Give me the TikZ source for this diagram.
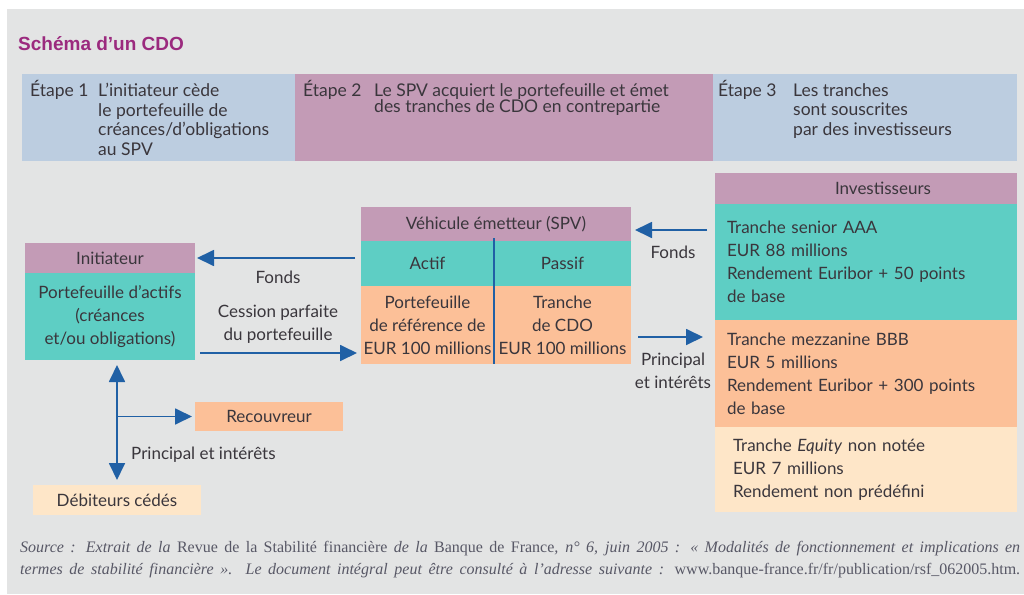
\documentclass[tikz,border=0pt]{standalone}
\usepackage{fontspec}
\setmainfont{Lato}
\newfontfamily\srcfont{Liberation Serif}
\newfontfamily\titlefont{Liberation Sans}
\usetikzlibrary{positioning,arrows.meta}
\definecolor{bggray}{HTML}{E3E4E4}
\definecolor{stepblue}{HTML}{BCCDE0}
\definecolor{mauve}{HTML}{C39BB6}
\definecolor{tealbox}{HTML}{5ECEC4}
\definecolor{peach}{HTML}{FCC098}
\definecolor{cream}{HTML}{FEE6C8}
\definecolor{flowblue}{HTML}{2060A5}
\definecolor{inkgray}{HTML}{3A363C}
\definecolor{titlepurple}{HTML}{9B2A7E}
\definecolor{srcgray}{HTML}{585866}

\begin{document}
\begin{tikzpicture}[x=1pt, y=-1pt, font=\fontsize{17}{23}\selectfont, text=inkgray]
\tikzset{cell/.style={inner sep=0pt, outer sep=0pt, anchor=north west},
         hdr/.style={cell, fill=mauve},
         steplbl/.style={inner sep=0pt, anchor=base west,
                         font=\fontsize{17.5}{19.5}\selectfont},
         steptxt/.style={inner sep=0pt, anchor=north west, align=left,
                         font=\fontsize{17.5}{19.5}\selectfont},
         lbl/.style={inner sep=1pt},
         >={Triangle[length=17pt, width=16pt]},
         flow/.style={draw=flowblue, line width=1.8pt, ->},
         tranchebox/.style={cell, text width=278pt, inner xsep=12pt,
                            minimum height=#1, align=left},
         srcline/.style={inner sep=0pt, anchor=base west, text=srcgray,
                         font=\srcfont\fontsize{16}{18}\selectfont\itshape}}

\useasboundingbox (0,0) rectangle (1024,594);
\fill[white] (0,0) rectangle (1024,594);
\fill[bggray] (7,9) rectangle (1024,594);

\node[anchor=base west, inner sep=0pt, text=titlepurple,
      font=\titlefont\fontsize{19}{22}\selectfont\bfseries] (title) at (18,51) {Schéma d’un CDO};

% les trois etapes
\node[cell, fill=stepblue, minimum width=273pt, minimum height=87pt] (step1) at (22,74) {};
\node[cell, fill=mauve, minimum width=418pt, minimum height=87pt] (step2) at (step1.north east) {};
\node[cell, fill=stepblue, minimum width=304pt, minimum height=87pt] (step3) at (step2.north east) {};

\node[steplbl] (step1lbl) at ([xshift=8pt, yshift=-22pt]step1.north west) {Étape 1};
\node[steptxt] (step1txt) at ([xshift=76pt, yshift=-9pt]step1.north west)
  {L’initiateur cède\\le portefeuille de\\créances/d’obligations\\au SPV};
\node[steplbl] (step2lbl) at ([xshift=8pt, yshift=-22pt]step2.north west) {Étape 2};
\node[steptxt, font=\fontsize{17.5}{16.5}\selectfont] (step2txt)
  at ([xshift=79pt, yshift=-9pt]step2.north west)
  {Le SPV acquiert le portefeuille et émet\\des tranches de CDO en contrepartie};
\node[steplbl] (step3lbl) at ([xshift=5pt, yshift=-22pt]step3.north west) {Étape 3};
\node[steptxt] (step3txt) at ([xshift=80pt, yshift=-9pt]step3.north west)
  {Les tranches\\sont souscrites\\par des investisseurs};

% initiateur
\node[hdr, minimum width=170pt, minimum height=30pt] (inithead) at (25,243) {Initiateur};
\node[cell, fill=tealbox, minimum width=170pt, minimum height=87pt, align=center,
      below=0pt of inithead] (initbody)
  {Portefeuille d’actifs\\(créances\\et/ou obligations)};

\node[cell, fill=peach, minimum width=148pt, minimum height=29pt] (recouv) at (195,402) {Recouvreur};
\node[cell, fill=cream, minimum width=168pt, minimum height=30pt] (debit) at (33,485) {Débiteurs cédés};

% vehicule emetteur
\node[hdr, minimum width=270pt, minimum height=34pt] (spvhead) at (361,207) {Véhicule émetteur (SPV)};
\node[cell, fill=tealbox, minimum width=133pt, minimum height=45pt] (actif) at (spvhead.south west) {Actif};
\node[cell, fill=tealbox, minimum width=137pt, minimum height=45pt] (passif) at (actif.north east) {Passif};
\node[cell, fill=peach, minimum width=133pt, minimum height=78pt, align=center] (refport)
  at (actif.south west) {Portefeuille\\de référence de\\EUR 100 millions};
\node[cell, fill=peach, minimum width=137pt, minimum height=78pt, align=center] (tranche)
  at (passif.south west) {Tranche\\de CDO\\EUR 100 millions};
\draw[flowblue, line width=1.6pt] ([yshift=3pt]passif.north west) -- (tranche.south west);

% investisseurs
\node[hdr, minimum width=302pt, minimum height=31pt] (invhead) at (715,173) {\hspace{34pt}Investisseurs};
\node[tranchebox=116pt, fill=tealbox, below=0pt of invhead] (senior)
  {Tranche senior AAA\\EUR 88 millions\\Rendement Euribor + 50 points\\de base};
\node[tranchebox=107pt, fill=peach, below=0pt of senior] (mezz)
  {Tranche mezzanine BBB\\EUR 5 millions\\Rendement Euribor + 300 points\\de base};
\node[tranchebox=85pt, fill=cream, text width=266pt, inner xsep=18pt, below=0pt of mezz] (equity)
  {Tranche \textit{Equity} non notée\\EUR 7 millions\\Rendement non prédéfini};

% flux
\draw[flow, shorten <=6pt, shorten >=2pt] (inithead.east -| spvhead.west) -- (inithead.east)
  node[lbl, midway, below=11pt] {Fonds};
\coordinate (cess) at ([yshift=7pt]initbody.south east);
\draw[flow, shorten <=5pt, shorten >=4pt] (cess) -- (cess -| refport.west)
  node[lbl, midway, above=8pt, align=center] {Cession parfaite\\du portefeuille};
\coordinate (fondsR) at ([yshift=-6pt]spvhead.east);
\draw[flow, shorten <=8pt, shorten >=4pt] (fondsR -| senior.west) -- (fondsR)
  node[lbl, midway, below=14pt] {Fonds};
\coordinate (princ) at ([yshift=-12pt]tranche.east);
\draw[flow, shorten <=7pt, shorten >=12pt] (princ) -- (princ -| mezz.west)
  node[lbl, midway, below=14pt, align=center] {Principal\\et intérêts};
\draw[flow, <->, shorten <=5pt, shorten >=5pt] (debit.north |- initbody.south) -- (debit.north);
\draw[flow, shorten >=3pt] (debit.north |- recouv.west) -- (recouv.west);
\node[lbl, anchor=west] (princlbl) at (130,455) {Principal et intérêts};

% source
\node[srcline] (src1) at (20,552) {\makebox[1000pt][s]{Source : Extrait de la \upshape Revue de la Stabilité financière \itshape de la \upshape Banque de France\itshape, n° 6, juin 2005 : « Modalités de fonctionnement et implications en}};
\node[srcline] (src2) at (20,574) {\makebox[1000pt][s]{termes de stabilité financière ». Le document intégral peut être consulté à l’adresse suivante : \upshape www.banque-france.fr/fr/publication/rsf\_062005.htm.}};
\end{tikzpicture}
\end{document}
